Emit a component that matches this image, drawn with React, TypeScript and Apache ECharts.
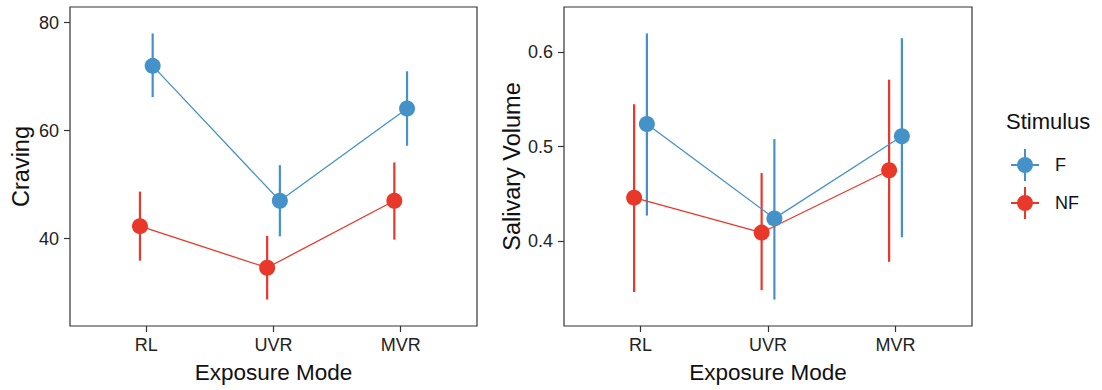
import React, { useEffect, useRef } from "react";
import * as echarts from "echarts";

const categories = ["RL", "UVR", "MVR"];
const groups = ["F", "NF"];

const cravingF = [72.0, 47.0, 64.1];
const cravingFLow = [66.2, 40.4, 57.2];
const cravingFHigh = [78.0, 53.6, 71.0];
const cravingNF = [42.3, 34.6, 47.0];
const cravingNFLow = [35.9, 28.7, 39.8];
const cravingNFHigh = [48.7, 40.5, 54.1];

const salivaF = [0.524, 0.424, 0.511];
const salivaFLow = [0.427, 0.338, 0.404];
const salivaFHigh = [0.62, 0.508, 0.615];
const salivaNF = [0.446, 0.409, 0.475];
const salivaNFLow = [0.346, 0.348, 0.378];
const salivaNFHigh = [0.545, 0.472, 0.571];

const cravingTicks = [40, 60, 80];
const salivaTicks = [0.4, 0.5, 0.6];

const COLORS = { F: "#4592C8", NF: "#E8382A" };
const DODGE = { F: 0.05, NF: -0.05 };
const FONT = "Liberation Sans, Arial, sans-serif";

const legendIcon =
  "path://M14,8 A8,8 0 1,1 14,24 A8,8 0 1,1 14,8 Z M0,15 L28,15 L28,17 L0,17 Z M13,0 L15,0 L15,32 L13,32 Z";

function buildSeries(
  name: "F" | "NF",
  gridIdx: number,
  vals: number[],
  lo: number[],
  hi: number[]
) {
  const color = COLORS[name];
  const d = DODGE[name];
  return [
    {
      type: "line",
      name,
      xAxisIndex: gridIdx,
      yAxisIndex: gridIdx,
      data: vals.map((v, i) => [i + 1 + d, v]),
      symbol: "circle",
      symbolSize: 16,
      itemStyle: { color },
      lineStyle: { color, width: 1.3 },
      z: 3,
    },
    {
      type: "custom",
      name,
      xAxisIndex: gridIdx,
      yAxisIndex: gridIdx,
      data: vals.map((_, i) => [i + 1 + d, lo[i], hi[i]]),
      encode: { x: 0, y: [1, 2] },
      renderItem: (params: any, api: any) => {
        const x = api.value(0);
        const p1 = api.coord([x, api.value(1)]);
        const p2 = api.coord([x, api.value(2)]);
        return {
          type: "line",
          shape: { x1: p1[0], y1: p1[1], x2: p2[0], y2: p2[1] },
          style: { stroke: color, lineWidth: 2.2 },
        };
      },
      z: 2,
    },
  ];
}

function xAxisCfg(gridIndex: number) {
  return {
    type: "value",
    gridIndex,
    min: 0.4,
    max: 3.6,
    name: "Exposure Mode",
    nameLocation: "middle",
    nameGap: 35,
    nameTextStyle: { fontSize: 22.5, color: "#111", fontFamily: FONT },
    axisLine: { show: false },
    splitLine: { show: false },
    axisTick: {
      show: true,
      customValues: [1, 2, 3],
      length: 6,
      lineStyle: { color: "#333", width: 1.2 },
    },
    axisLabel: {
      customValues: [1, 2, 3],
      formatter: (v: number) => categories[Math.round(v) - 1] ?? "",
      fontSize: 18,
      color: "#222",
      margin: 10,
      fontFamily: FONT,
    },
  };
}

function yAxisCfg(
  gridIndex: number,
  name: string,
  min: number,
  max: number,
  ticks: number[],
  nameGap: number
) {
  return {
    type: "value",
    gridIndex,
    min,
    max,
    name,
    nameLocation: "middle",
    nameGap,
    nameTextStyle: { fontSize: 23.5, color: "#111", fontFamily: FONT },
    axisLine: { show: false },
    splitLine: { show: false },
    axisTick: {
      show: true,
      customValues: ticks,
      length: 6,
      lineStyle: { color: "#333", width: 1.2 },
    },
    axisLabel: {
      customValues: ticks,
      fontSize: 18,
      color: "#222",
      margin: 11,
      fontFamily: FONT,
      formatter: (v: number) => (ticks[0] < 1 ? v.toFixed(1) : String(v)),
    },
  };
}

export default function App() {
  const ref = useRef<HTMLDivElement>(null);
  useEffect(() => {
    if (!ref.current) return;
    const chart = echarts.init(ref.current, undefined, { renderer: "svg" });
    chart.setOption({
      animation: false,
      backgroundColor: "#fff",
      textStyle: { fontFamily: FONT },
      grid: [
        {
          left: 70,
          top: 7,
          width: 407,
          height: 319,
          show: true,
          borderColor: "#333",
          borderWidth: 1.2,
          backgroundColor: "transparent",
        },
        {
          left: 564,
          top: 7,
          width: 408,
          height: 319,
          show: true,
          borderColor: "#333",
          borderWidth: 1.2,
          backgroundColor: "transparent",
        },
      ],
      xAxis: [xAxisCfg(0), xAxisCfg(1)],
      yAxis: [
        yAxisCfg(0, "Craving", 23.8, 82.9, cravingTicks, 37),
        yAxisCfg(1, "Salivary Volume", 0.31, 0.648, salivaTicks, 40),
      ],
      legend: {
        orient: "vertical",
        left: 1006,
        top: 144,
        itemWidth: 28,
        itemHeight: 32,
        itemGap: 6,
        selectedMode: false,
        textStyle: {
          fontSize: 18,
          color: "#111",
          fontFamily: FONT,
          padding: [0, 0, 0, 11],
        },
        data: groups.map((g) => ({
          name: g,
          icon: legendIcon,
          itemStyle: { color: COLORS[g as "F" | "NF"] },
        })),
      },
      graphic: [
        {
          type: "text",
          left: 1006,
          top: 110,
          style: {
            text: "Stimulus",
            fontSize: 22,
            fill: "#111",
            fontFamily: FONT,
          },
        },
      ],
      series: [
        ...buildSeries("F", 0, cravingF, cravingFLow, cravingFHigh),
        ...buildSeries("NF", 0, cravingNF, cravingNFLow, cravingNFHigh),
        ...buildSeries("F", 1, salivaF, salivaFLow, salivaFHigh),
        ...buildSeries("NF", 1, salivaNF, salivaNFLow, salivaNFHigh),
      ],
    });
    return () => chart.dispose();
  }, []);
  return (
    <div
      ref={ref}
      style={{ position: "fixed", left: 0, top: 0, width: 1102, height: 390 }}
    />
  );
}
